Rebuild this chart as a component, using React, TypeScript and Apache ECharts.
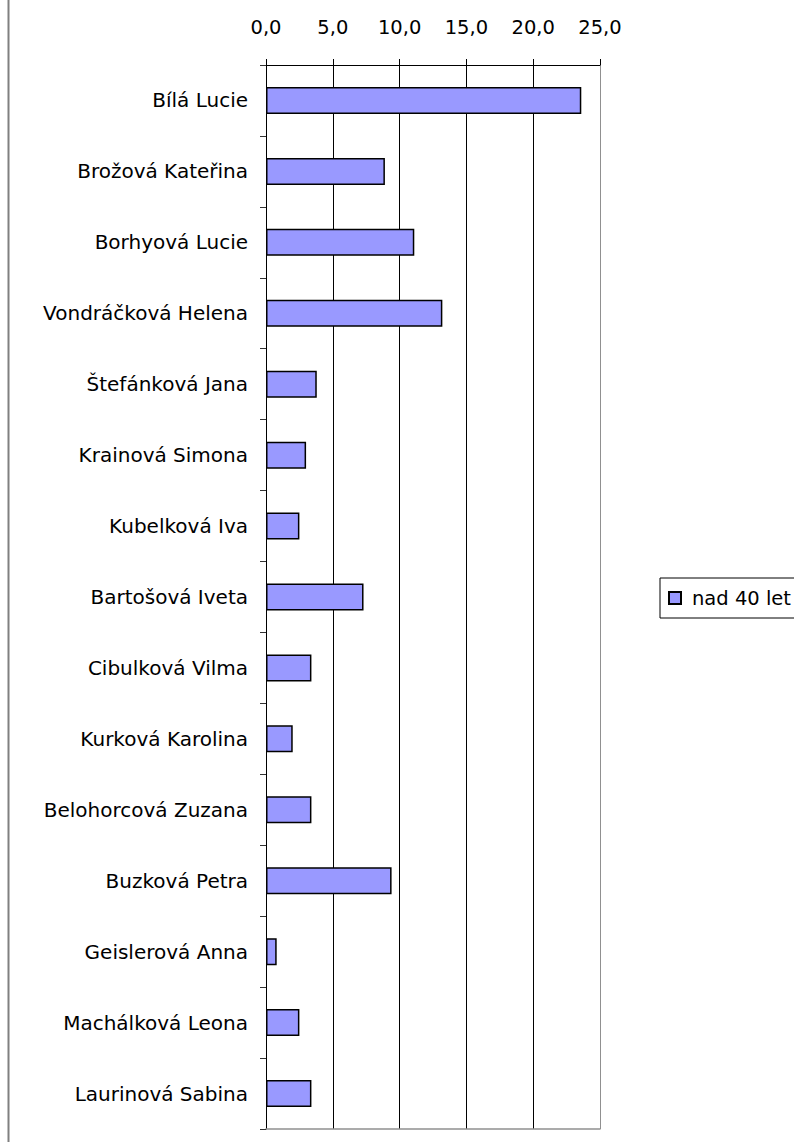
import React, { useEffect, useRef } from "react";
import * as echarts from "echarts";

const categories = [
  "Bílá Lucie",
  "Brožová Kateřina",
  "Borhyová Lucie",
  "Vondráčková Helena",
  "Štefánková Jana",
  "Krainová Simona",
  "Kubelková Iva",
  "Bartošová Iveta",
  "Cibulková Vilma",
  "Kurková Karolina",
  "Belohorcová Zuzana",
  "Buzková Petra",
  "Geislerová Anna",
  "Machálková Leona",
  "Laurinová Sabina",
];

const values = [23.6, 8.9, 11.1, 13.2, 3.8, 3.0, 2.5, 7.3, 3.4, 2.0, 3.4, 9.4, 0.8, 2.5, 3.4];

const seriesName = "nad 40 let";
const axisMin = 0;
const axisMax = 25;
const axisStep = 5;

const FONT = "'DejaVu Sans', 'Liberation Sans', Arial, sans-serif";

export default function App() {
  const ref = useRef<HTMLDivElement>(null);

  useEffect(() => {
    if (!ref.current) return;
    const chart = echarts.init(ref.current, null, { renderer: "svg" });
    chart.setOption({
      animation: false,
      backgroundColor: "#fff",
      textStyle: { fontFamily: FONT },
      grid: { left: 266, right: 194, top: 65, bottom: 13, containLabel: false },
      legend: {
        data: [seriesName],
        left: 660,
        top: 578,
        orient: "vertical",
        borderColor: "#000",
        borderWidth: 1,
        padding: [10, 40, 10, 8],
        itemWidth: 12,
        itemHeight: 12,
        icon: "rect",
        textStyle: { fontSize: 19.5, color: "#000", fontFamily: FONT, padding: [0, 0, 0, 6] },
      },
      xAxis: [
        {
          type: "value",
          position: "top",
          min: axisMin,
          max: axisMax,
          interval: axisStep,
          axisLine: { show: true, lineStyle: { color: "#000", width: 1 } },
          axisTick: { show: true, length: 6, lineStyle: { color: "#000" } },
          axisLabel: {
            fontSize: 19.5,
            color: "#000",
            fontFamily: FONT,
            margin: 28,
            formatter: (v: number) => v.toFixed(1).replace(".", ","),
          },
          splitLine: {
            show: true,
            lineStyle: { color: ["#000", "#000", "#000", "#000", "#000", "#909090"], width: 1 },
          },
        },
        {
          type: "value",
          position: "bottom",
          min: axisMin,
          max: axisMax,
          interval: axisStep,
          axisLine: { show: true, lineStyle: { color: "#909090", width: 1.5 } },
          axisTick: { show: false },
          axisLabel: { show: false },
          splitLine: { show: false },
        },
      ],
      yAxis: {
        type: "category",
        data: categories,
        inverse: true,
        axisLine: { show: true, lineStyle: { color: "#000", width: 1 } },
        axisTick: { show: true, length: 6, alignWithLabel: false, lineStyle: { color: "#333" } },
        axisLabel: { fontSize: 20, color: "#000", fontFamily: FONT, margin: 18 },
        splitLine: { show: false },
      },
      series: [
        {
          name: seriesName,
          type: "bar",
          xAxisIndex: 0,
          data: values,
          barWidth: 27,
          itemStyle: { color: "#9999FF", borderColor: "#000", borderWidth: 1.5 },
        },
      ],
      graphic: [
        {
          type: "line",
          shape: { x1: 8.5, y1: 0, x2: 8.5, y2: 1142 },
          style: { stroke: "#808080", lineWidth: 2 },
        },
      ],
    });
    return () => chart.dispose();
  }, []);

  return (
    <div
      ref={ref}
      style={{ position: "absolute", left: 0, top: 0, width: 794, height: 1142 }}
    />
  );
}
